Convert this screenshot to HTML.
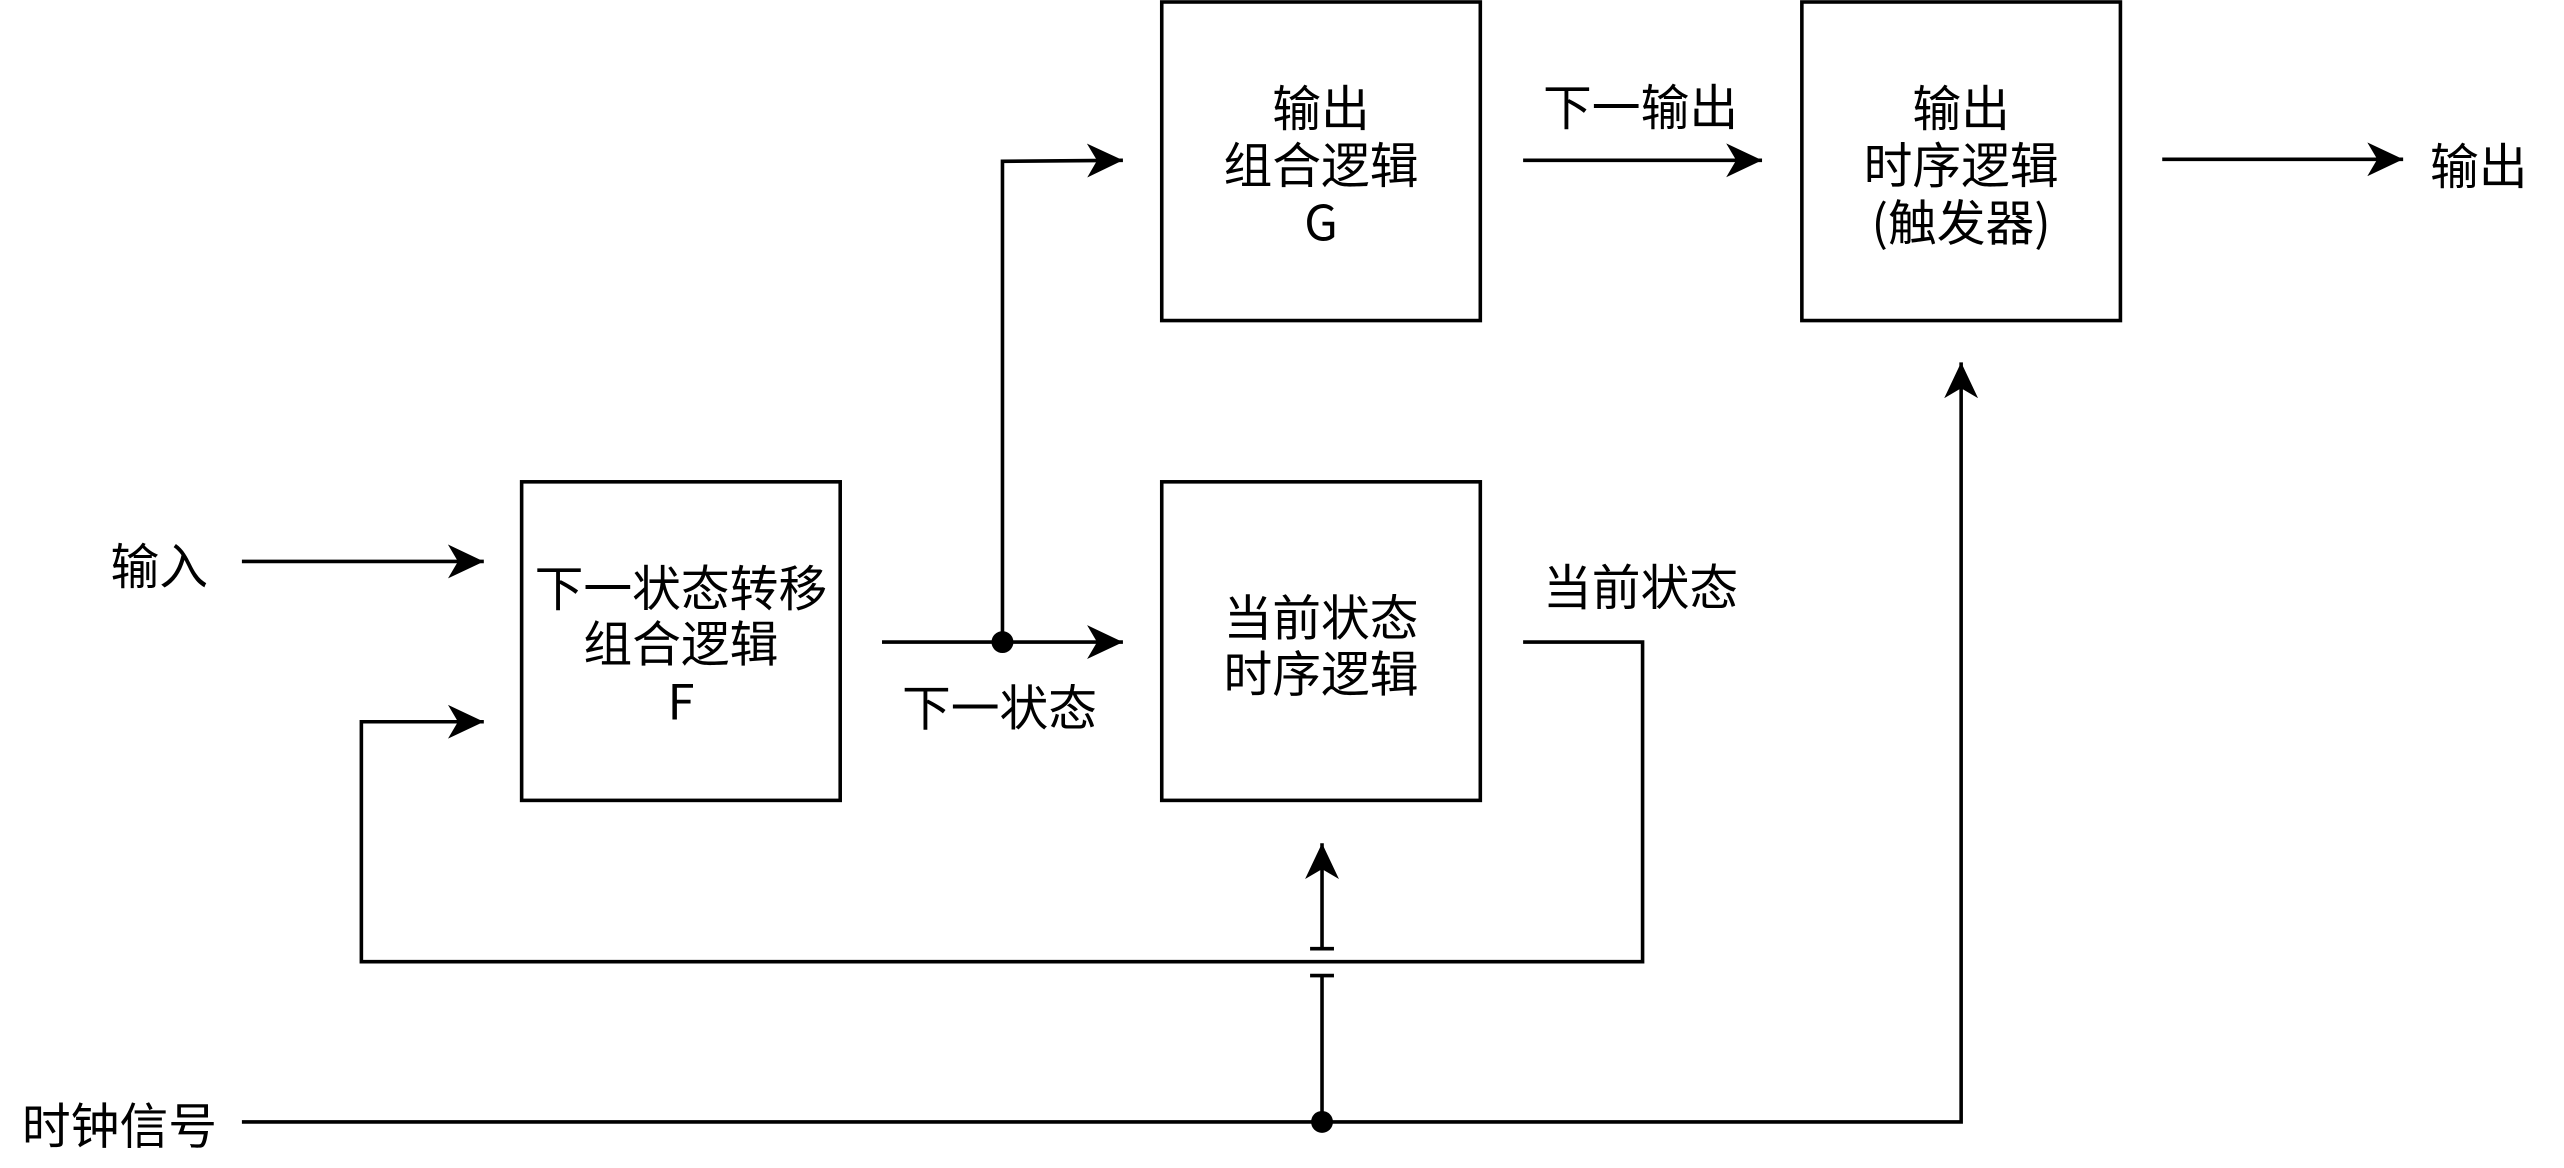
<!DOCTYPE html>
<html><head><meta charset="utf-8"><style>
html,body{margin:0;padding:0;background:#fff;}
svg{display:block;}
text{font-family:"Noto Sans CJK SC","Liberation Sans",sans-serif;font-size:49px;fill:#000;}
</style></head><body>
<svg width="2564" height="1168" viewBox="0 0 2564 1168" xmlns="http://www.w3.org/2000/svg">
<defs>
<marker id="a" markerWidth="40" markerHeight="36" refX="36" refY="18" orient="auto" markerUnits="userSpaceOnUse">
<path d="M0,1 L36,18 L0,35 L10,18 Z" fill="#000"/>
</marker>
</defs>
<g transform="scale(0.9955)">
<g fill="none" stroke="#000" stroke-width="3.6">
<rect x="524" y="484" width="320" height="320"/>
<rect x="1167" y="2" width="320" height="320"/>
<rect x="1167" y="484" width="320" height="320"/>
<rect x="1810" y="2" width="320" height="320"/>
<line x1="243" y1="564" x2="486" y2="564" marker-end="url(#a)"/>
<polyline points="1530,645 1650,645 1650,966 363,966 363,725 486,725" marker-end="url(#a)"/>
<line x1="886" y1="645" x2="1128" y2="645" marker-end="url(#a)"/>
<polyline points="1007,645 1007,162 1128,161" marker-end="url(#a)"/>
<line x1="1530" y1="161" x2="1770" y2="161" marker-end="url(#a)"/>
<line x1="2172" y1="160" x2="2414" y2="160" marker-end="url(#a)"/>
<polyline points="243,1127 1970,1127 1970,364" marker-end="url(#a)"/>
<line x1="1328" y1="1127" x2="1328" y2="980"/>
<line x1="1328" y1="953" x2="1328" y2="847" marker-end="url(#a)"/>
<line x1="1316" y1="980" x2="1340" y2="980"/>
<line x1="1316" y1="953" x2="1340" y2="953"/>
</g>
<circle cx="1007" cy="645" r="11" fill="#000"/>
<circle cx="1328" cy="1127" r="11" fill="#000"/>
<g text-anchor="middle" dominant-baseline="central">
<text x="684" y="588">下一状态转移</text>
<text x="684" y="644">组合逻辑</text>
<text x="684" y="702">F</text>
<text x="1327" y="106">输出</text>
<text x="1327" y="163">组合逻辑</text>
<text x="1327" y="221">G</text>
<text x="1327" y="618">当前状态</text>
<text x="1327" y="674">时序逻辑</text>
<text x="1970" y="106">输出</text>
<text x="1970" y="163">时序逻辑</text>
<text x="1970" y="221">(触发器)</text>
<text x="160" y="566">输入</text>
<text x="120" y="1128">时钟信号</text>
<text x="1004" y="708">下一状态</text>
<text x="1648" y="105">下一输出</text>
<text x="1648" y="587">当前状态</text>
<text x="2490" y="164">输出</text>
</g>
</g>
</svg>
</body></html>
